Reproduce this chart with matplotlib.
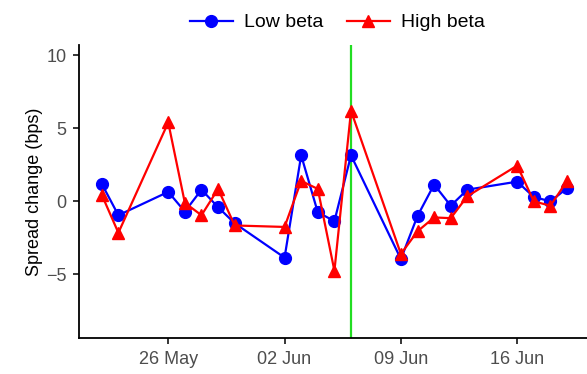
import matplotlib
matplotlib.use("Agg")
import matplotlib.pyplot as plt
import matplotlib.dates as mdates
import datetime as dt

dates = ["2019-05-22", "2019-05-23", "2019-05-26", "2019-05-27", "2019-05-28",
         "2019-05-29", "2019-05-30", "2019-06-02", "2019-06-03", "2019-06-04",
         "2019-06-05", "2019-06-06", "2019-06-09", "2019-06-10", "2019-06-11",
         "2019-06-12", "2019-06-13", "2019-06-16", "2019-06-17", "2019-06-18",
         "2019-06-19"]
low_beta = [1.2, -0.95, 0.65, -0.7, 0.8, -0.4, -1.5, -3.85, 3.15, -0.75,
            -1.35, 3.15, -3.95, -1.0, 1.15, -0.3, 0.8, 1.35, 0.3, 0.0, 0.9]
high_beta = [0.45, -2.15, 5.4, -0.1, -0.95, 0.85, -1.65, -1.75, 1.4, 0.85,
             -4.75, 6.2, -3.6, -2.05, -1.1, -1.15, 0.35, 2.45, 0.0, -0.3, 1.4]
event_date = "2019-06-06"
y_ticks = [-5, 0, 5, 10]

plt.rcParams["font.family"] = ["Liberation Sans", "DejaVu Sans"]

x = [dt.datetime.strptime(d, "%Y-%m-%d") for d in dates]
ev = dt.datetime.strptime(event_date, "%Y-%m-%d")

fig = plt.figure(figsize=(5.87, 3.74), dpi=100)
ax = fig.add_axes([79 / 587, 36 / 374, 508 / 587, 293 / 374])

ax.axvline(ev, color="#22dd22", linewidth=1.6, zorder=1)
ax.plot(x, low_beta, color="blue", marker="o", markersize=8.5,
        linewidth=1.6, label="Low beta", zorder=2)
ax.plot(x, high_beta, color="red", marker="^", markersize=8.5,
        linewidth=1.6, label="High beta", zorder=3)

base = dt.datetime(2019, 5, 26)
ax.set_xlim(base - dt.timedelta(days=5.37), base + dt.timedelta(days=25.2))
ax.set_ylim(-9.35, 10.7)
ax.set_yticks(y_ticks)
ax.xaxis.set_major_locator(mdates.DayLocator(bymonthday=[26, 2, 9, 16]))
ax.xaxis.set_major_formatter(mdates.DateFormatter("%d %b"))

for s in ["top", "right"]:
    ax.spines[s].set_visible(False)
for s in ["left", "bottom"]:
    ax.spines[s].set_linewidth(1.3)
    ax.spines[s].set_color("black")
ax.tick_params(axis="both", labelsize=13, labelcolor="#4d4d4d",
               length=4, width=1.1, color="black", pad=5)
ax.set_ylabel("Spread change (bps)", fontsize=13, color="black", labelpad=2)

fig.legend(loc="upper center", bbox_to_anchor=(0.575, 1.01), ncol=2,
           frameon=False, fontsize=14, handlelength=2.2, columnspacing=1.2,
           handletextpad=0.6)

fig.savefig("out.png", dpi=100)
